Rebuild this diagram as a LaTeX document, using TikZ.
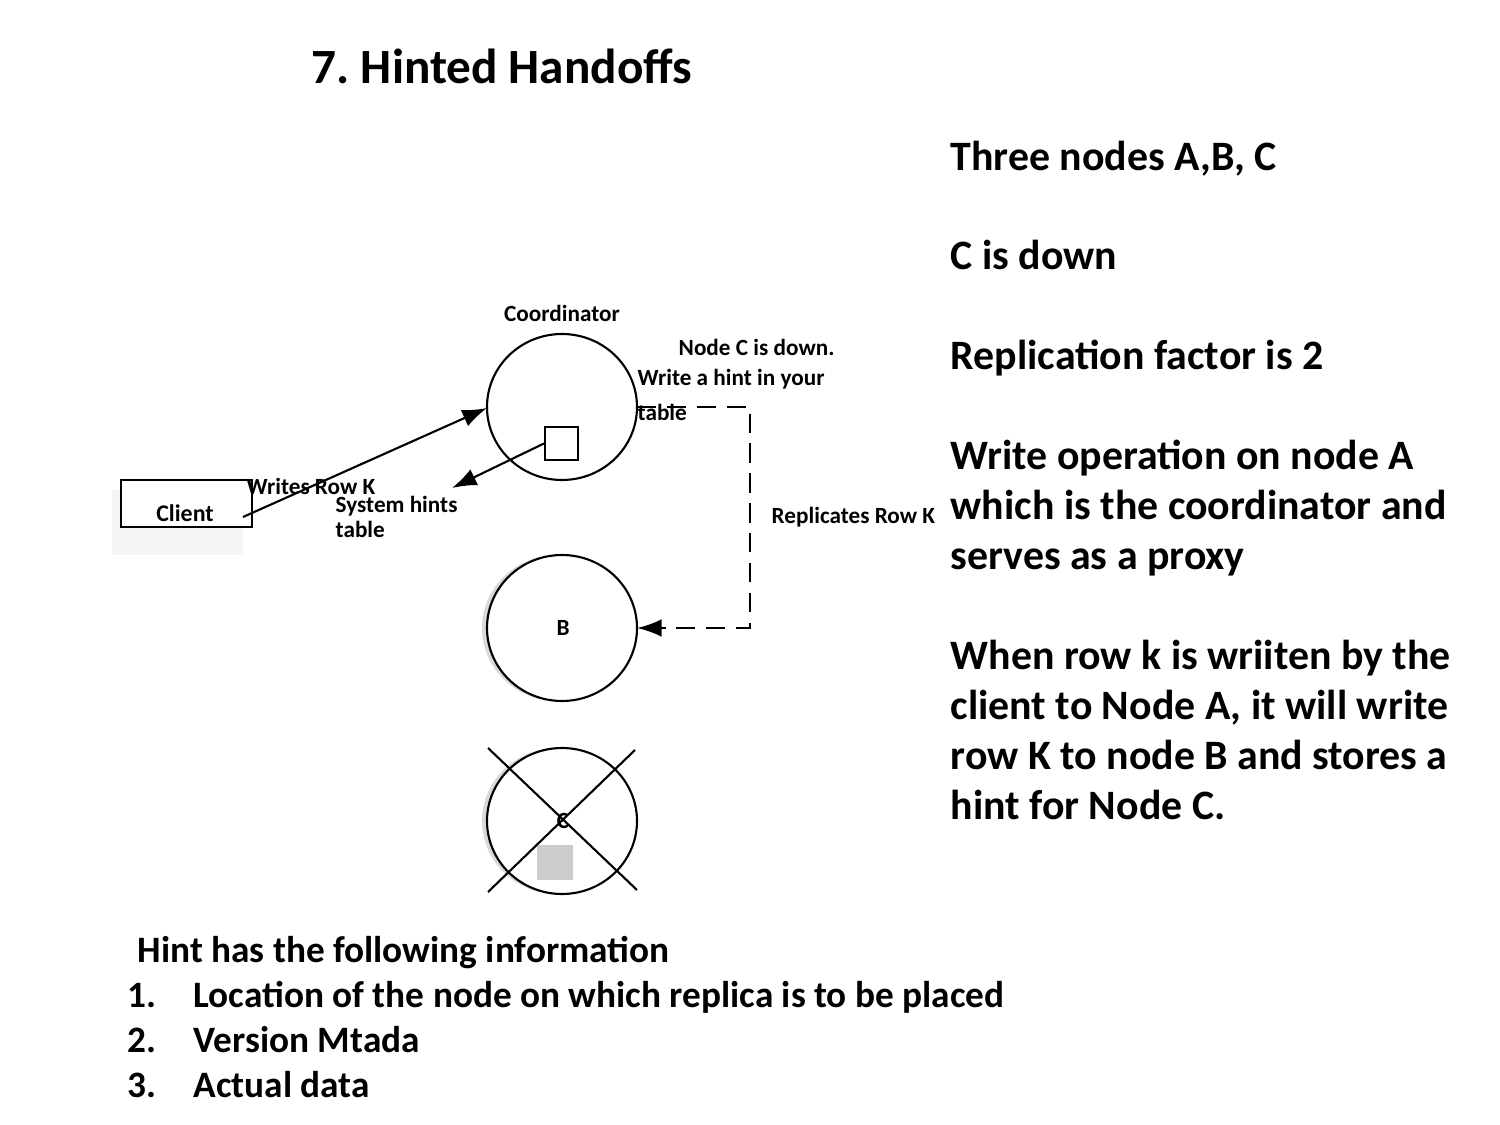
\documentclass[tikz,border=0pt]{standalone}
\usepackage{fontspec}
\setmainfont{Carlito}
\usetikzlibrary{arrows.meta}
\begin{document}
\frenchspacing
\begin{tikzpicture}[x=0.01cm,y=-0.01cm,
 lbl/.style={font=\bfseries\fontsize{6.6}{7}\selectfont,inner sep=0},
 big/.style={font=\bfseries\fontsize{11.9}{14.2}\selectfont,inner sep=0,anchor=north west,align=left},
 bot/.style={font=\bfseries\fontsize{10.6}{12}\selectfont,inner sep=0,anchor=base west},
 arr/.style={line width=0.6pt,-{Latex[length=7pt,width=5pt]}}]
\useasboundingbox (0,0) rectangle (1500,1125);
\node[font=\bfseries\fontsize{14}{16}\selectfont,anchor=base west,inner sep=0] (title) at (311,84) {7. Hinted Handoffs};
\node[big] (txt) at (950,140) {Three nodes A,B, C\\[14.2pt]C is down\\[14.2pt]Replication factor is 2\\[14.2pt]Write operation on node A\\which is the coordinator and\\serves as a proxy\\[14.2pt]When row k is wriiten by the\\client to Node A, it will write\\row K to node B and stores a\\hint for Node C.};
% shadows
\fill[gray!30] (557,628) ellipse [x radius=75,y radius=73];
\fill[gray!30] (557,821) ellipse [x radius=75,y radius=73];
\fill[gray!8] (112,490) rectangle (243,555);
\draw[line width=0.6pt,fill=white] (562,407) ellipse [x radius=75,y radius=73];
\coordinate (Awest) at (487,408);
\coordinate (Aeast) at (637,407);
\draw[line width=0.6pt,fill=white] (562,628) ellipse [x radius=75,y radius=73];
\coordinate (Beast) at (637,628);
\node[lbl] (B) at (563,628) {B};
\draw[line width=0.6pt,fill=white] (562,821) ellipse [x radius=75,y radius=73];
\fill[gray!40] (537,845) rectangle (573,880);
\node[lbl] (C) at (563,821) {C};
\draw[line width=0.6pt] (488,748) -- (637,890);
\draw[line width=0.6pt] (635,750) -- (488,892);
\node[draw,line width=0.6pt,fill=white,minimum width=0.33cm,minimum height=0.33cm,inner sep=0] (sqr) at (561.5,443.5) {};
\node[draw,line width=0.6pt,fill=white,minimum width=1.31cm,minimum height=0.47cm,inner sep=0] (client) at (186.5,503.5) {};
\node[lbl,font=\bfseries\fontsize{6.8}{7}\selectfont] (clabel) at (185,513) {Client};
\node[lbl] (coord) at (562,313) {Coordinator};
\node[lbl,anchor=west] (l1) at (678,347) {Node C is down.};
\node[lbl,anchor=west] (l2) at (637,379) {Write a hint in your};
\node[lbl,anchor=west] (l3) at (637,412) {table};
\node[lbl,anchor=west] (wr) at (246,486) {Writes Row K};
\node[lbl,anchor=north west,align=left] (sh) at (335,496) {System hints\\table};
\node[lbl,anchor=west] (rep) at (771,517) {Replicates Row K};
\draw[arr] (243,517) -- (Awest);
\coordinate (tip) at (452,488);
\draw[arr] (sqr.west) -- (tip);
\draw[arr,dash pattern=on 5.5pt off 3pt] (Aeast) -- (750,407) -- (750,628) -- (Beast);
\node[bot] (hint) at (137,962) {Hint has the following information};
\foreach \n/\t [count=\i] in {1./Location of the node on which replica is to be placed,2./Version Mtada,3./Actual data}{
 \node[bot] (n\i) at (127,{962+45*\i}) {\n};
 \node[bot] (t\i) at (193,{962+45*\i}) {\t};
}
\end{tikzpicture}
\end{document}
